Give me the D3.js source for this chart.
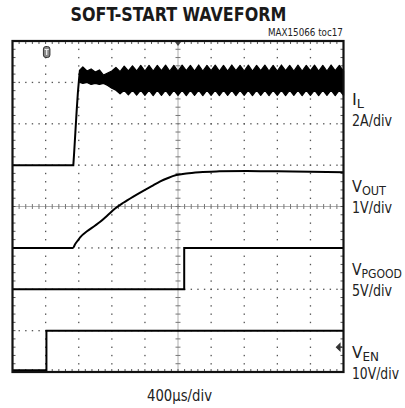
<!DOCTYPE html>
<html>
<head>
<meta charset="utf-8">
<script src="https://cdn.jsdelivr.net/npm/d3@7"></script>
<style>
  html, body { margin: 0; padding: 0; background: #fff; }
  svg { display: block; }
  text { font-family: "Liberation Sans Narrow", "DejaVu Sans Condensed", Roboto, "Liberation Sans", sans-serif; fill: #222; }
</style>
</head>
<body>
<svg id="chart" width="405" height="408"></svg>
<script>
// ---------------- DATA ----------------
// time axis: 400 µs/div, 10 divisions
const timeTicksUs = [0, 400, 800, 1200, 1600, 2000, 2400, 2800, 3200, 3600, 4000];

// Inductor current IL (A), 2 A/div
const ilTime = [0, 735, 745, 760, 775, 790, 805, 815];
const ilAmp  = [0, 0, 0.6, 1.6, 2.6, 3.5, 4.2, 4.6];

// IL switching envelope after soft-start (A)
const bandTime = [815, 850, 900, 950, 1000, 1050, 1100, 1150, 1200,
  1250, 1300, 1350, 1400, 1450, 1500, 1550, 1600, 1650, 1700, 1750, 1800, 1850, 1900, 1950, 2000,
  2050, 2100, 2150, 2200, 2250, 2300, 2350, 2400, 2450, 2500, 2550, 2600, 2650, 2700, 2750, 2800,
  2850, 2900, 2950, 3000, 3050, 3100, 3150, 3200, 3250, 3300, 3350, 3400, 3450, 3500, 3550, 3600,
  3650, 3700, 3750, 3800, 3850, 3900, 3950, 4000];
const bandUpper = [4.6, 4.75, 4.55, 4.65, 4.5, 4.6, 4.35, 4.45, 4.55,
  4.72, 4.52, 4.78, 4.55, 4.8, 4.55, 4.82, 4.55, 4.82, 4.55, 4.82, 4.57, 4.83, 4.55, 4.82, 4.55,
  4.83, 4.57, 4.82, 4.55, 4.84, 4.55, 4.82, 4.57, 4.83, 4.55, 4.82, 4.55, 4.84, 4.57, 4.82, 4.55,
  4.83, 4.55, 4.82, 4.57, 4.83, 4.55, 4.82, 4.55, 4.84, 4.57, 4.82, 4.55, 4.83, 4.55, 4.82, 4.57,
  4.83, 4.55, 4.82, 4.55, 4.84, 4.57, 4.82, 4.55];
const bandLower = [4.0, 3.95, 4.0, 3.9, 3.95, 3.9, 3.95, 3.85, 3.72,
  3.62, 3.45, 3.62, 3.4, 3.62, 3.38, 3.62, 3.37, 3.63, 3.36, 3.62, 3.37, 3.63, 3.36, 3.62, 3.37,
  3.62, 3.36, 3.63, 3.37, 3.62, 3.36, 3.62, 3.37, 3.63, 3.36, 3.62, 3.37, 3.62, 3.36, 3.63, 3.37,
  3.62, 3.36, 3.62, 3.37, 3.63, 3.36, 3.62, 3.37, 3.62, 3.36, 3.63, 3.37, 3.62, 3.36, 3.62, 3.37,
  3.63, 3.36, 3.62, 3.37, 3.62, 3.36, 3.63, 3.37];

// Output voltage VOUT (V), 1 V/div
const voutTime = [0, 730, 760, 790, 820, 900, 1000, 1060, 1150, 1240, 1340, 1460, 1580, 1700, 1780, 1880, 1980, 2100, 2260, 2500, 2830, 3200, 3600, 4000];
const voutV    = [0, 0, 0.1, 0.18, 0.26, 0.4, 0.54, 0.63, 0.79, 0.95, 1.09, 1.24, 1.38, 1.51, 1.6, 1.69, 1.76, 1.8, 1.83, 1.85, 1.86, 1.85, 1.84, 1.83];

// Power-good VPGOOD (V), 5 V/div
const pgoodTime = [0, 2075, 4000];
const pgoodV    = [0, 5, 5];

// Enable VEN (V), 10 V/div
const venTime = [0, 410, 4000];
const venV    = [0.4, 10, 10];

// channel labels
const chanNames = ["I", "V", "V", "V"];
const chanSubs  = ["L", "OUT", "PGOOD", "EN"];
const chanScales = ["2A/div", "1V/div", "5V/div", "10V/div"];

// ---------------- LAYOUT ----------------
const svg = d3.select("#chart");
const L = 12.5, R = 343.5, T = 41, B = 372;
const x = d3.scaleLinear().domain([0, 4000]).range([L, R]);
const yDiv = d3.scaleLinear().domain([0, 8]).range([B, T]);
// channel ground positions (div) and units per div
const chan = {
  il:    { ground: 5, perDiv: 2 },
  vout:  { ground: 3, perDiv: 1 },
  pgood: { ground: 2, perDiv: 5 },
  ven:   { ground: 0, perDiv: 10 }
};
const yOf = (c) => (v) => yDiv(chan[c].ground + v / chan[c].perDiv);

const gGrid = svg.append("g");
const xMinor = d3.range(0, 4000.01, 80);
const yMinor = d3.range(0, 8.001, 0.2);
const xMajor = timeTicksUs.slice(1, -1);
const yMajor = d3.range(1, 8);

// dotted grid lines (vertical)
xMajor.forEach(t => {
  if (t === 2000) return;
  gGrid.selectAll(null).data(yMinor.slice(1, -1)).enter().append("rect")
    .attr("x", x(t) - 0.6).attr("y", d => yDiv(d) - 0.6)
    .attr("width", 1.3).attr("height", 1.4).attr("fill", "#555");
});
// dotted grid lines (horizontal)
yMajor.forEach(dv => {
  if (dv === 4) return;
  gGrid.selectAll(null).data(xMinor.slice(1, -1)).enter().append("rect")
    .attr("x", d => x(d) - 0.6).attr("y", yDiv(dv) - 0.6)
    .attr("width", 1.4).attr("height", 1.3).attr("fill", "#555");
});
// center axes with ticks
gGrid.append("line").attr("x1", L).attr("x2", R).attr("y1", yDiv(4)).attr("y2", yDiv(4))
  .attr("stroke", "#999").attr("stroke-width", 0.8);
gGrid.append("line").attr("x1", x(2000)).attr("x2", x(2000)).attr("y1", T).attr("y2", B)
  .attr("stroke", "#999").attr("stroke-width", 0.8);
gGrid.selectAll(null).data(xMinor.slice(1, -1)).enter().append("line")
  .attr("x1", d => x(d)).attr("x2", d => x(d))
  .attr("y1", yDiv(4) - 2.5).attr("y2", yDiv(4) + 2.5)
  .attr("stroke", "#777").attr("stroke-width", 1);
gGrid.selectAll(null).data(yMinor.slice(1, -1)).enter().append("line")
  .attr("x1", x(2000) - 2.5).attr("x2", x(2000) + 2.5)
  .attr("y1", d => yDiv(d)).attr("y2", d => yDiv(d))
  .attr("stroke", "#777").attr("stroke-width", 1);
// frame edge ticks
gGrid.selectAll(null).data(xMinor.slice(1, -1)).enter().append("line")
  .attr("x1", d => x(d)).attr("x2", d => x(d)).attr("y1", T).attr("y2", T + 3)
  .attr("stroke", "#555").attr("stroke-width", 1);
gGrid.selectAll(null).data(xMinor.slice(1, -1)).enter().append("line")
  .attr("x1", d => x(d)).attr("x2", d => x(d)).attr("y1", B).attr("y2", B - 3)
  .attr("stroke", "#555").attr("stroke-width", 1);
gGrid.selectAll(null).data(yMinor.slice(1, -1)).enter().append("line")
  .attr("x1", L).attr("x2", L + 3).attr("y1", d => yDiv(d)).attr("y2", d => yDiv(d))
  .attr("stroke", "#555").attr("stroke-width", 1);
gGrid.selectAll(null).data(yMinor.slice(1, -1)).enter().append("line")
  .attr("x1", R).attr("x2", R - 3).attr("y1", d => yDiv(d)).attr("y2", d => yDiv(d))
  .attr("stroke", "#555").attr("stroke-width", 1);

// ---------------- TRACES ----------------
const gTr = svg.append("g");
const yIL = yOf("il");
gTr.append("path")
  .attr("d", d3.line().x((d, i) => x(ilTime[i])).y(d => yIL(d))(ilAmp))
  .attr("fill", "none").attr("stroke", "#000").attr("stroke-width", 2);
const band = bandTime.map((t, i) => ({ t, u: bandUpper[i], l: bandLower[i] }));
gTr.append("path")
  .attr("d", d3.area().x(d => x(d.t)).y0(d => yIL(d.l)).y1(d => yIL(d.u))(band))
  .attr("fill", "#000").attr("stroke", "#000").attr("stroke-width", 1.2).attr("stroke-linejoin", "round");

const yV = yOf("vout");
gTr.append("path")
  .attr("d", d3.line().curve(d3.curveMonotoneX).x((d, i) => x(voutTime[i])).y(d => yV(d))(voutV))
  .attr("fill", "none").attr("stroke", "#000").attr("stroke-width", 2);

const yP = yOf("pgood");
gTr.append("path")
  .attr("d", d3.line().curve(d3.curveStepAfter).x((d, i) => x(pgoodTime[i])).y(d => yP(d))(pgoodV))
  .attr("fill", "none").attr("stroke", "#000").attr("stroke-width", 2);

const yE = yOf("ven");
gTr.append("path")
  .attr("d", d3.line().curve(d3.curveStepAfter).x((d, i) => x(venTime[i])).y(d => yE(d))(venV))
  .attr("fill", "none").attr("stroke", "#000").attr("stroke-width", 2);

// frame
svg.append("rect").attr("x", L).attr("y", T).attr("width", R - L).attr("height", B - T)
  .attr("fill", "none").attr("stroke", "#111").attr("stroke-width", 2.2);

// markers: trigger position, trigger time, trigger level
svg.append("path")
  .attr("d", `M${x(2000) - 3},${T + 1} L${x(2000) + 3},${T + 1} L${x(2000)},${T + 5} Z`)
  .attr("fill", "#444");
const tx = x(venTime[1]);
svg.append("rect").attr("x", tx - 3).attr("y", T + 5.5).attr("width", 6.5).attr("height", 11)
  .attr("rx", 2.5).attr("fill", "#888").attr("stroke", "#333").attr("stroke-width", 1);
svg.append("path").attr("d", `M${tx - 1.8},${T + 8.5} L${tx + 2.3},${T + 8.5} M${tx + 0.25},${T + 8.5} L${tx + 0.25},${T + 14}`)
  .attr("stroke", "#eee").attr("stroke-width", 1.2);
const ay = yDiv(0.6);
svg.append("path").attr("d", `M${R - 7},${ay} L${R - 3.5},${ay - 3.5} L${R - 3.5},${ay + 3.5} Z M${R - 4},${ay} L${R - 1.5},${ay}`)
  .attr("fill", "#333").attr("stroke", "#333").attr("stroke-width", 1.2);

// ---------------- TEXT ----------------
// place a text at (px, py) horizontally scaled to a target width
function fitText(sel, px, py, w, anchor) {
  const len = sel.node().getComputedTextLength();
  const sx = len > 0 ? w / len : 1;
  const x0 = anchor === "middle" ? px - w / 2 : anchor === "end" ? px - w : px;
  sel.attr("x", 0).attr("y", 0).attr("text-anchor", "start")
    .attr("transform", `translate(${x0},${py}) scale(${sx},1)`);
  return sel;
}

fitText(svg.append("text").attr("font-size", 20).attr("font-weight", "bold")
  .style("fill", "#1a1a1a").text("SOFT-START WAVEFORM"), 178.5, 21, 216, "middle");
fitText(svg.append("text").attr("font-size", 10).text("MAX15066 toc17"), 343, 36, 75, "end");
fitText(svg.append("text").attr("font-size", 15.5).text("400µs/div"), 179.5, 401, 65, "middle");

const labelY = [105, 192, 275, 358];
const nameW = [12, 34, 50, 27];
const scaleW = [40, 40, 40, 47];
labelY.forEach((yy, i) => {
  const t = svg.append("text").attr("font-size", 16);
  t.append("tspan").text(chanNames[i]);
  t.append("tspan").attr("font-size", 12.5).attr("dy", 3).text(chanSubs[i]);
  fitText(t, 352, yy, nameW[i], "start");
  fitText(svg.append("text").attr("font-size", 16).text(chanScales[i]), 352, yy + 21, scaleW[i], "start");
});
</script>
</body>
</html>
